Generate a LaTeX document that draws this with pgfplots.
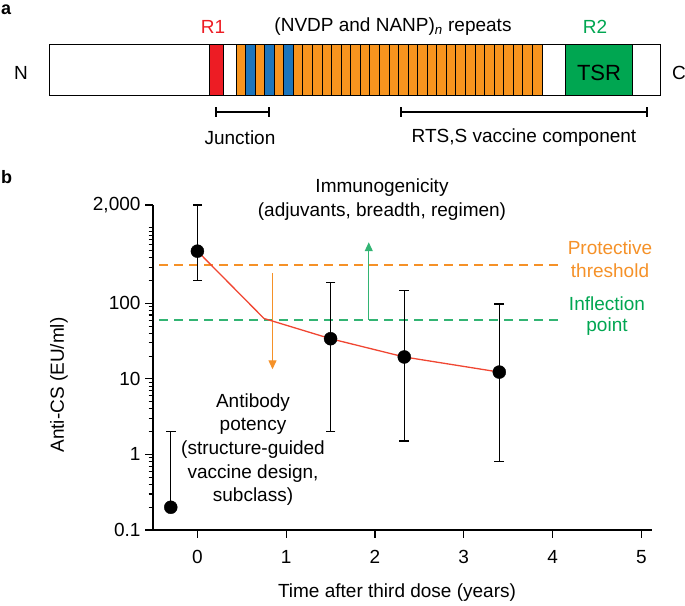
\documentclass[border=0pt]{standalone}
\usepackage{fontspec}
\setmainfont{Liberation Sans}
\usepackage{pgfplots}
\pgfplotsset{compat=1.18}
\usetikzlibrary{arrows.meta}

\definecolor{r1red}{RGB}{237,28,36}
\definecolor{reporange}{RGB}{247,148,30}
\definecolor{repblue}{RGB}{28,117,188}
\definecolor{tsrgreen}{RGB}{0,166,81}
\definecolor{linered}{RGB}{240,70,50}
\definecolor{dashgreen}{RGB}{50,180,115}
\definecolor{dashorange}{RGB}{245,145,40}

\newcommand{\lbl}{\fontsize{19}{22}\selectfont}

\begin{document}
\begin{tikzpicture}[font=\lbl]
\path[use as bounding box] (0pt,0pt) rectangle (685pt,-605pt);

% ---- panel a: protein schematic (pixel units, y down)
\begin{axis}[
    at={(0pt,0pt)}, anchor=north west,
    scale only axis, width=685pt, height=160pt,
    xmin=0, xmax=685, ymin=0, ymax=160, y dir=reverse,
    axis lines=none, clip=false,
]
\addplot[draw=none, fill=reporange] coordinates {(236,44)(542,44)(542,95)(236,95)(236,44)};
\addplot[draw=black, line width=1pt, fill=repblue] coordinates {(245.6,44)(255.1,44)(255.1,95)(245.6,95)(245.6,44)};
\addplot[draw=black, line width=1pt, fill=repblue] coordinates {(264.7,44)(274.3,44)(274.3,95)(264.7,95)(264.7,44)};
\addplot[draw=black, line width=1pt, fill=repblue] coordinates {(283.8,44)(293.4,44)(293.4,95)(283.8,95)(283.8,44)};
% stripe borders
\addplot[only marks, mark=|, mark size=25.5pt, mark options={line width=1pt, black}] coordinates {
 (236.0,69.5)(245.6,69.5)(255.1,69.5)(264.7,69.5)(274.3,69.5)(283.8,69.5)(293.4,69.5)
 (302.9,69.5)(312.5,69.5)(322.1,69.5)(331.6,69.5)(341.2,69.5)(350.8,69.5)(360.3,69.5)
 (369.9,69.5)(379.4,69.5)(389.0,69.5)(398.6,69.5)(408.1,69.5)(417.7,69.5)(427.3,69.5)
 (436.8,69.5)(446.4,69.5)(455.9,69.5)(465.5,69.5)(475.1,69.5)(484.6,69.5)(494.2,69.5)
 (503.8,69.5)(513.3,69.5)(522.9,69.5)(532.4,69.5)(542.0,69.5)};
\addplot[draw=black, line width=1pt, fill=r1red] coordinates {(209,44)(223,44)(223,95)(209,95)(209,44)};
\addplot[draw=black, line width=1pt, fill=tsrgreen] coordinates {(565,44)(632,44)(632,95)(565,95)(565,44)};
\addplot[draw=black, line width=1pt] coordinates {(49,44)(660,44)(660,95)(49,95)(49,44)};
% brackets
\addplot[black, line width=1.2pt, mark=|, mark size=5pt, mark options={solid}] coordinates {(216,112)(269,112)};
\addplot[black, line width=1.2pt, mark=|, mark size=5pt, mark options={solid}] coordinates {(401,112)(647,112)};
\end{axis}

\node[font=\fontsize{18}{21}\bfseries, anchor=base west, inner sep=0pt] at (1pt,-14pt) {a};
\node at (21pt,-73pt) {N};
\node at (679pt,-73pt) {C};
\node[text=r1red] at (213pt,-27pt) {R1};
\node at (393pt,-27pt) {(NVDP and NANP)\textsubscript{\textit{n}} repeats};
\node[text=tsrgreen] at (595pt,-27pt) {R2};
\node[font=\fontsize{22}{24}\selectfont] at (599pt,-73pt) {TSR};
\node at (240pt,-138pt) {Junction};
\node at (524pt,-138pt) {RTS,S vaccine component};

% ---- panel b: antibody decay
\begin{axis}[
    at={(153pt,-530pt)}, anchor=south west,
    scale only axis, width=499pt, height=325pt,
    xmin=-0.5, xmax=5.12,
    ymode=log, ymin=0.1, ymax=2000,
    axis x line*=bottom, axis y line*=left,
    axis line style={line width=1.1pt, -},
    tick align=outside,
    major tick length=8pt, minor tick length=4.5pt,
    every tick/.style={black, line width=1.1pt},
    xtick={0,1,2,3,4,5},
    xticklabels={0,1,2,3,4,5},
    xticklabel style={yshift=-9pt},
    ytick={0.1,1,10,100,2000},
    yticklabels={0.1,1,10,100,{2,000}},
    yticklabel style={xshift=-1pt},
    minor ytick={0.2,0.3,0.4,0.5,0.6,0.7,0.8,0.9,2,3,4,5,6,7,8,9,20,30,40,50,60,70,80,90,200,300,400,500,600,700,800,900,1000},
    tick label style={font=\lbl},
    clip=false,
]
\addplot[dashorange, line width=1.3pt, dash pattern=on 9pt off 6pt] coordinates {(-0.43,320)(4.10,320)};
\addplot[dashgreen, line width=1.3pt, dash pattern=on 9pt off 6pt] coordinates {(-0.43,60)(4.10,60)};
\addplot[dashorange, line width=1.3pt, -{Triangle[length=9pt,width=8pt]}] coordinates {(0.846,250)(0.846,13.4)};
\addplot[dashgreen, line width=1.3pt, -{Triangle[length=9pt,width=8pt]}] coordinates {(1.93,60)(1.93,643)};
\addplot[linered, line width=1.3pt] coordinates {(0,490)(0.75,63)(1.5,34)(2.33,19.5)(3.4,12.3)};
% error bars
\addplot[black, line width=1.3pt, mark=-, mark size=4.8pt, mark options={solid}] coordinates {(-0.3,0.2)(-0.3,2)};
\addplot[black, line width=1.3pt, mark=-, mark size=4.8pt, mark options={solid}] coordinates {(0,200)(0,2000)};
\addplot[black, line width=1.3pt, mark=-, mark size=4.8pt, mark options={solid}] coordinates {(1.5,2)(1.5,190)};
\addplot[black, line width=1.3pt, mark=-, mark size=4.8pt, mark options={solid}] coordinates {(2.33,1.5)(2.33,148)};
\addplot[black, line width=1.3pt, mark=-, mark size=4.8pt, mark options={solid}] coordinates {(3.4,0.8)(3.4,98)};
\addplot[only marks, mark=*, mark size=6.5pt, black] coordinates {(-0.3,0.2)(0,490)(1.5,34)(2.33,19.5)(3.4,12.3)};
\end{axis}

\node[font=\fontsize{18}{21}\bfseries, anchor=base west, inner sep=0pt] at (1pt,-183pt) {b};
\node[rotate=90] at (59pt,-385pt) {Anti-CS (EU/ml)};
\node at (397pt,-593pt) {Time after third dose (years)};
\node at (382pt,-188pt) {Immunogenicity};
\node at (382pt,-212pt) {(adjuvants, breadth, regimen)};
\node[text=dashorange] at (610pt,-248pt) {Protective};
\node[text=dashorange] at (610pt,-271pt) {threshold};
\node[text=tsrgreen] at (607pt,-304pt) {Inflection};
\node[text=tsrgreen] at (607pt,-327pt) {point};
\node at (253pt,-403pt) {Antibody};
\node at (253pt,-426.5pt) {potency};
\node at (253pt,-450pt) {(structure-guided};
\node at (253pt,-473.5pt) {vaccine design,};
\node at (253pt,-497pt) {subclass)};
\end{tikzpicture}
\end{document}
